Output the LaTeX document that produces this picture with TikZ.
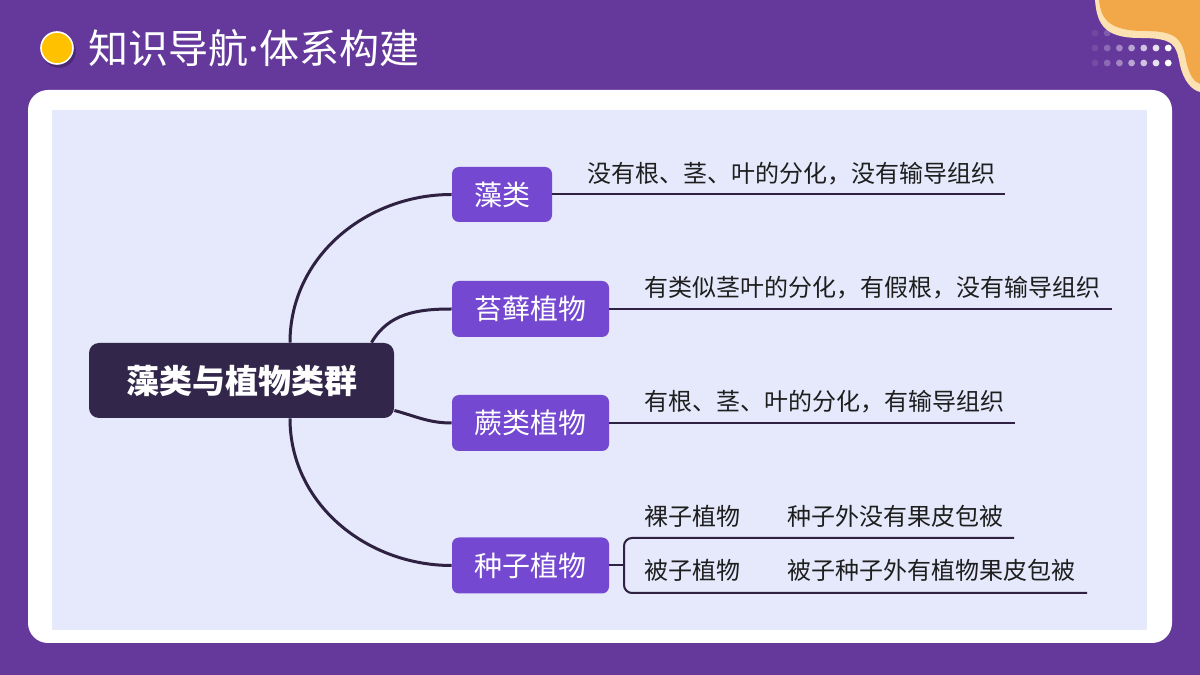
\documentclass[tikz,border=0pt]{standalone}
\usepackage{fontspec}
\newfontfamily\cjk{Noto Sans CJK SC}
\newfontfamily\latin{Noto Sans}
\definecolor{bgpurple}{RGB}{101,56,155}
\definecolor{panel}{RGB}{229,233,251}
\definecolor{rootdark}{RGB}{50,38,74}
\definecolor{branchpurple}{RGB}{116,72,208}
\definecolor{linepurple}{RGB}{46,33,66}
\definecolor{desctext}{RGB}{30,30,30}
\definecolor{sunyellow}{RGB}{255,193,0}
\definecolor{bloborange}{RGB}{242,168,72}
\definecolor{blobcream}{RGB}{252,226,178}

\begin{document}
\begin{tikzpicture}[x=.5pt,y=.5pt,font=\cjk,
  branch/.style={fill=branchpurple,rounded corners=3.5pt,text=white,
    minimum width=78.5pt,minimum height=28pt,inner sep=0pt,
    font=\cjk\fontsize{14pt}{16pt}\selectfont},
  desc/.style={anchor=west,inner sep=0pt,text=desctext,
    font=\cjk\fontsize{12pt}{14pt}\selectfont},
  link/.style={draw=linepurple,line width=1.5pt},
  rule/.style={draw=linepurple,line width=1pt}]
  % page and card
  \useasboundingbox (0,0) rectangle (1200,675);
  \fill[bgpurple] (0,0) rectangle (1200,675);
  \foreach \i in {0,...,6} {
    \fill[white,opacity=.1+.15*\i] (1095+12.2*\i,627) circle (1.7pt);
    \fill[white,opacity=.1+.15*\i] (1095+12.2*\i,612) circle (1.7pt);
  }
  \foreach \i in {0,1}
    \fill[white,opacity=.08+.1*\i] (1095+12.2*\i,642) circle (1.7pt);
  \fill[blobcream] (1095,675) .. controls (1097,650) and (1105,637) .. (1140,637)
    .. controls (1175,637) and (1176,630) .. (1180,610)
    .. controls (1184,593) and (1192,585) .. (1200,583) -- (1200,675) -- cycle;
  \fill[bloborange] (1099,675) .. controls (1101,655) and (1110,644) .. (1145,644)
    .. controls (1178,644) and (1182,635) .. (1186,615)
    .. controls (1189,600) and (1194,593) .. (1200,591) -- (1200,675) -- cycle;
  \fill[white,rounded corners=10pt] (28,32) rectangle (1172,585);
  \fill[panel] (52,45) rectangle (1147,565);

  % title
  \fill[black,opacity=.25] (59,624) circle (8.4pt);
  \filldraw[fill=sunyellow,draw=white,line width=.8pt] (57,627) circle (8pt);
  \node[anchor=west,inner sep=0pt,text=white,
    font=\cjk\fontsize{20pt}{23pt}\selectfont] (title) at (88,627)
    {知识导航{\latin ·}体系构建};

  % mind map
  \node[fill=rootdark,rounded corners=5pt,text=white,minimum width=152.5pt,
    minimum height=37.5pt,font=\cjk\bfseries\fontsize{16.5pt}{19pt}\selectfont]
    (root) at (241.5,294.5) {藻类与植物类群};
  \node[branch,minimum width=50pt,minimum height=27.5pt] (zao) at (502,480.5) {藻类};
  \node[branch] (taixian) at (530.5,366) {苔藓植物};
  \node[branch] (jue) at (530.5,252) {蕨类植物};
  \node[branch] (zhongzi) at (530.5,109.5) {种子植物};

  \draw[link] ([xshift=24.25pt]root.north) to[out=90,in=180] (zao.west);
  \draw[link] ([xshift=65pt]root.north) to[out=60,in=180] (taixian.west);
  \draw[link] ([yshift=-15pt]root.east) to[out=-15,in=180] (jue.west);
  \draw[link] ([xshift=24.25pt]root.south) to[out=-90,in=180] (zhongzi.west);

  \coordinate (zaoend) at (1005,480.5);
  \coordinate (taixianend) at (1112,366);
  \coordinate (jueend) at (1015,252);
  \coordinate (fork) at (624,109.5);
  \coordinate (luoend) at (1014,137);
  \coordinate (beiend) at (1087,82);
  \draw[rule] (zao.east) -- (zaoend);
  \draw[rule] (taixian.east) -- (taixianend);
  \draw[rule] (jue.east) -- (jueend);
  \draw[rule] (zhongzi.east) -- (fork);
  \draw[rule,rounded corners=4pt] (luoend) -- (luoend -| fork) -- (beiend -| fork) -- (beiend);

  \node[desc] (zaotext) at (587,501) {没有根、茎、叶的分化，没有输导组织};
  \node[desc] (taixiantext) at (644,387) {有类似茎叶的分化，有假根，没有输导组织};
  \node[desc] (juetext) at (644,273) {有根、茎、叶的分化，有输导组织};
  \node[desc] (luozi) at (644,159) {裸子植物};
  \node[desc] (luotext) at (787,159) {种子外没有果皮包被};
  \node[desc] (beizi) at (644,105) {被子植物};
  \node[desc] (beitext) at (787,105) {被子种子外有植物果皮包被};
\end{tikzpicture}
\end{document}
